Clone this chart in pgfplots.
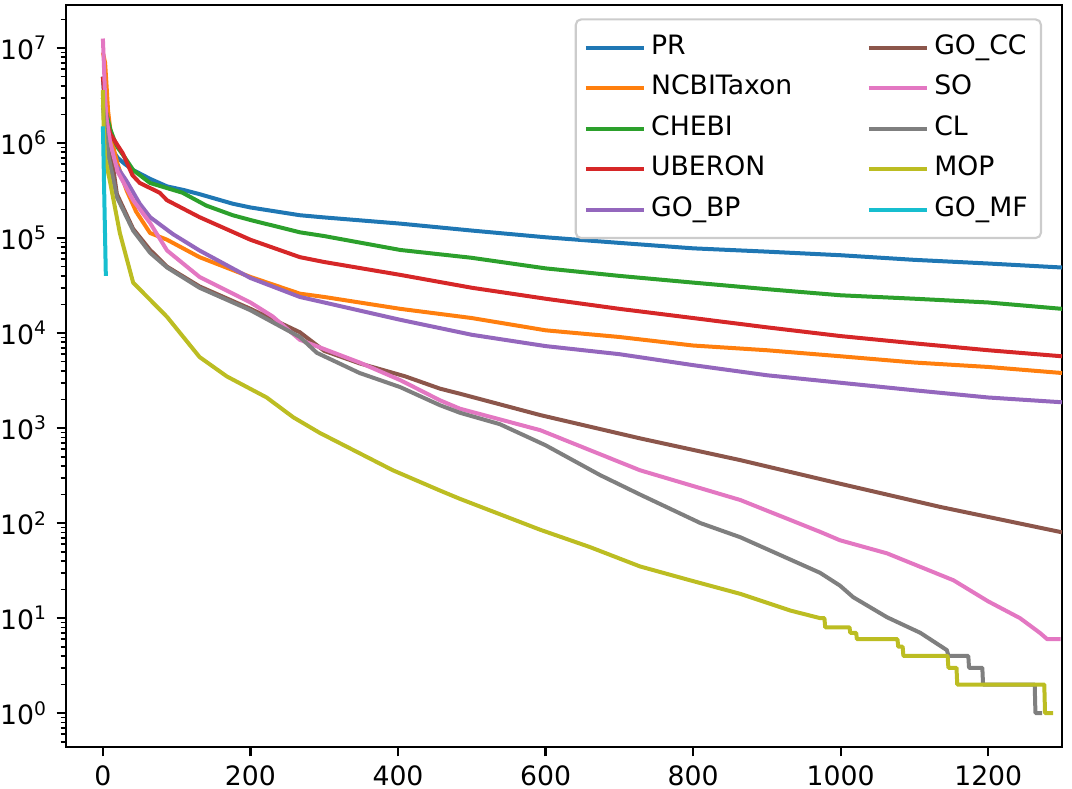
\documentclass[border=0pt]{standalone}
\usepackage{pgfplots}
\pgfplotsset{compat=1.18}
\usepackage{fontspec}
\setmainfont{DejaVu Sans}
\definecolor{c0}{HTML}{1F77B4}
\definecolor{c1}{HTML}{FF7F0E}
\definecolor{c2}{HTML}{2CA02C}
\definecolor{c3}{HTML}{D62728}
\definecolor{c4}{HTML}{9467BD}
\definecolor{c5}{HTML}{8C564B}
\definecolor{c6}{HTML}{E377C2}
\definecolor{c7}{HTML}{7F7F7F}
\definecolor{c8}{HTML}{BCBD22}
\definecolor{c9}{HTML}{17BECF}
\begin{document}
\begin{tikzpicture}
\begin{axis}[
  scale only axis,
  width=373.5pt, height=278.25pt,
  ymode=log,
  xmin=-50, xmax=1300,
  ymin=0.44, ymax=2.84e7,
  xtick={0,200,400,600,800,1000,1200},
  ytick={1,10,100,1000,10000,100000,1000000,10000000},
  yticklabels={10\textsuperscript{0},10\textsuperscript{1},10\textsuperscript{2},10\textsuperscript{3},10\textsuperscript{4},10\textsuperscript{5},10\textsuperscript{6},10\textsuperscript{7}},
  minor ytick={0.5,0.6,0.7,0.8,0.9,2,3,4,5,6,7,8,9,20,30,40,50,60,70,80,90,200,300,400,500,600,700,800,900,2000,3000,4000,5000,6000,7000,8000,9000,20000,30000,40000,50000,60000,70000,80000,90000,200000,300000,400000,500000,600000,700000,800000,900000,2000000,3000000,4000000,5000000,6000000,7000000,8000000,9000000,20000000},
  /pgf/number format/assume math mode=true,
  x tick label style={/pgf/number format/set thousands separator={}},
  tick label style={font=\fontsize{10}{12}\selectfont},
  tick pos=left,
  tick align=outside,
  major tick length=3.5pt,
  minor tick length=2pt,
  every tick/.style={black, line width=0.8pt},
  minor tick style={line width=0.6pt},
  axis line style={line width=0.8pt},
  every axis plot/.append style={line width=1.5pt, line join=round},
  legend columns=2,
  legend style={
    at={(rel axis cs:1,1)}, anchor=north east, xshift=-7.5pt, yshift=-5pt,
    draw=black!20, rounded corners=2pt, fill=white, fill opacity=0.8, text opacity=1,
    line width=0.8pt,
    font=\fontsize{10}{12}\selectfont,
    inner xsep=3pt, inner ysep=3pt,
    nodes={text height=7.6pt, text depth=2.6pt, inner ysep=2.5pt},
    /tikz/every even column/.append style={column sep=26pt},
  },
  legend cell align=left,
  legend image code/.code={\draw[#1] (0pt,0pt) -- (21.75pt,0pt);},
]
\addplot[c0, forget plot] coordinates {(0,5e6)(2,3e6)(4,1.8e6)(7,1.2e6)(10,1e6)(15,8e5)(20,7e5)(30,6e5)(41,5.2e5)(64,4.2e5)(87,3.5e5)(110,3.2e5)(131,2.9e5)(176,2.3e5)(200,2.1e5)(267,1.74e5)(300,1.65e5)(403,1.42e5)(500,1.2e5)(600,1.02e5)(700,8.9e4)(800,7.8e4)(900,7.2e4)(1000,6.6e4)(1100,5.9e4)(1200,5.4e4)(1300,4.9e4)};
\addplot[c1, forget plot] coordinates {(0,9e6)(3,7e6)(5,4e6)(7,2.2e6)(10,1.4e6)(15,8.5e5)(20,6e5)(32,3.2e5)(45,1.9e5)(64,1.13e5)(87,9.6e4)(131,6.3e4)(200,3.9e4)(267,2.6e4)(300,2.4e4)(403,1.8e4)(500,1.44e4)(600,1.07e4)(700,9.1e3)(800,7.4e3)(900,6.6e3)(1000,5.7e3)(1100,4.9e3)(1200,4.4e3)(1300,3.8e3)};
\addplot[c2, forget plot] coordinates {(0,3e6)(5,2e6)(10,1.4e6)(15,1.1e6)(20,9e5)(30,7e5)(41,5.2e5)(64,3.8e5)(108,3.0e5)(140,2.2e5)(176,1.74e5)(200,1.55e5)(267,1.15e5)(300,1.05e5)(403,7.5e4)(500,6.2e4)(600,4.8e4)(700,4.0e4)(800,3.4e4)(900,2.9e4)(1000,2.5e4)(1100,2.3e4)(1200,2.1e4)(1300,1.8e4)};
\addplot[c3, forget plot] coordinates {(0,5e6)(3,2.5e6)(6,1.6e6)(10,1.25e6)(18,1e6)(27,7.8e5)(40,4.6e5)(50,3.8e5)(77,3e5)(87,2.5e5)(131,1.66e5)(200,9.6e4)(267,6.3e4)(300,5.6e4)(403,4.1e4)(500,3.0e4)(600,2.3e4)(700,1.8e4)(800,1.44e4)(900,1.15e4)(1000,9.3e3)(1100,7.8e3)(1200,6.6e3)(1300,5.7e3)};
\addplot[c4, forget plot] coordinates {(0,3e6)(5,1.5e6)(12,7e5)(22,5.2e5)(32,4.0e5)(50,2.3e5)(64,1.66e5)(95,1.1e5)(131,7.4e4)(200,3.8e4)(267,2.4e4)(300,2.1e4)(403,1.38e4)(500,9.6e3)(600,7.3e3)(700,6.0e3)(800,4.6e3)(900,3.6e3)(1000,3.0e3)(1100,2.5e3)(1200,2.1e3)(1300,1.87e3)};
\addplot[c5, forget plot] coordinates {(0,3e6)(3,1.8e6)(10,9e5)(19,2.9e5)(41,1.25e5)(64,7.5e4)(87,5e4)(131,3.1e4)(200,1.8e4)(267,1.02e4)(300,6.5e3)(348,4.8e3)(410,3.5e3)(457,2.6e3)(484,2.3e3)(593,1.37e3)(728,7.8e2)(864,4.6e2)(999,2.6e2)(1135,1.48e2)(1300,80)};
\addplot[c6, forget plot] coordinates {(0,1.26e7)(1,8e6)(3,3e6)(5,1.8e6)(10,1e6)(20,5e5)(41,2.5e5)(64,1.44e5)(87,7.4e4)(131,3.9e4)(200,2.1e4)(230,1.5e4)(267,8.5e3)(348,4.9e3)(403,3.2e3)(457,1.96e3)(484,1.6e3)(593,9.5e2)(728,3.6e2)(864,1.75e2)(972,81)(999,66)(1063,48)(1153,25)(1200,15)(1243,10)(1270,7)(1280,6)(1298,6)};
\addplot[c7, forget plot] coordinates {(0,2.5e6)(3,1.3e6)(8,7e5)(19,2.7e5)(41,1.2e5)(64,7e4)(87,4.9e4)(131,3.0e4)(200,1.74e4)(267,9.1e3)(290,6.2e3)(348,3.8e3)(403,2.7e3)(457,1.74e3)(484,1.45e3)(538,1.1e3)(600,6.6e2)(674,3.2e2)(728,2e2)(810,1.0e2)(864,71)(972,30)(999,22)(1017,16.6)(1063,10.2)(1108,7)(1144,4.6)(1146,4)(1173,4)(1174,3)(1192,3)(1193,2)(1263,2)(1264,1)(1273,1)};
\addplot[c8, forget plot] coordinates {(0,3.6e6)(1,1.5e6)(3,7e5)(10,3.8e5)(23,1.13e5)(41,3.4e4)(87,1.48e4)(131,5.6e3)(168,3.5e3)(222,2.1e3)(258,1.3e3)(294,8.9e2)(393,3.6e2)(457,2.2e2)(484,1.8e2)(593,85)(660,56)(728,35)(796,25)(864,18)(932,12)(972,10)(978,10)(979,8)(1012,8)(1013,7)(1021,7)(1022,6)(1077,6)(1078,5)(1084,5)(1085,4)(1145,4)(1146,3)(1157,3)(1158,2)(1276,2)(1277,1)(1288,1)};
\addplot[c9, forget plot] coordinates {(0,1.5e6)(1,6.3e5)(2,2.5e5)(3,1e5)(4,4e4)};
\addlegendimage{c0, line width=1.5pt}\addlegendentry{PR}
\addlegendimage{c5, line width=1.5pt}\addlegendentry{GO\_CC}
\addlegendimage{c1, line width=1.5pt}\addlegendentry{NCBITaxon}
\addlegendimage{c6, line width=1.5pt}\addlegendentry{SO}
\addlegendimage{c2, line width=1.5pt}\addlegendentry{CHEBI}
\addlegendimage{c7, line width=1.5pt}\addlegendentry{CL}
\addlegendimage{c3, line width=1.5pt}\addlegendentry{UBERON}
\addlegendimage{c8, line width=1.5pt}\addlegendentry{MOP}
\addlegendimage{c4, line width=1.5pt}\addlegendentry{GO\_BP}
\addlegendimage{c9, line width=1.5pt}\addlegendentry{GO\_MF}
\coordinate (sw) at (rel axis cs:0,0);
\coordinate (ne) at (rel axis cs:1,1);
\end{axis}
\pgfresetboundingbox
\path[use as bounding box] ([shift={(-24.75pt,-15.375pt)}]sw) rectangle ([shift={(3.75pt,1.875pt)}]ne);
\end{tikzpicture}
\end{document}
